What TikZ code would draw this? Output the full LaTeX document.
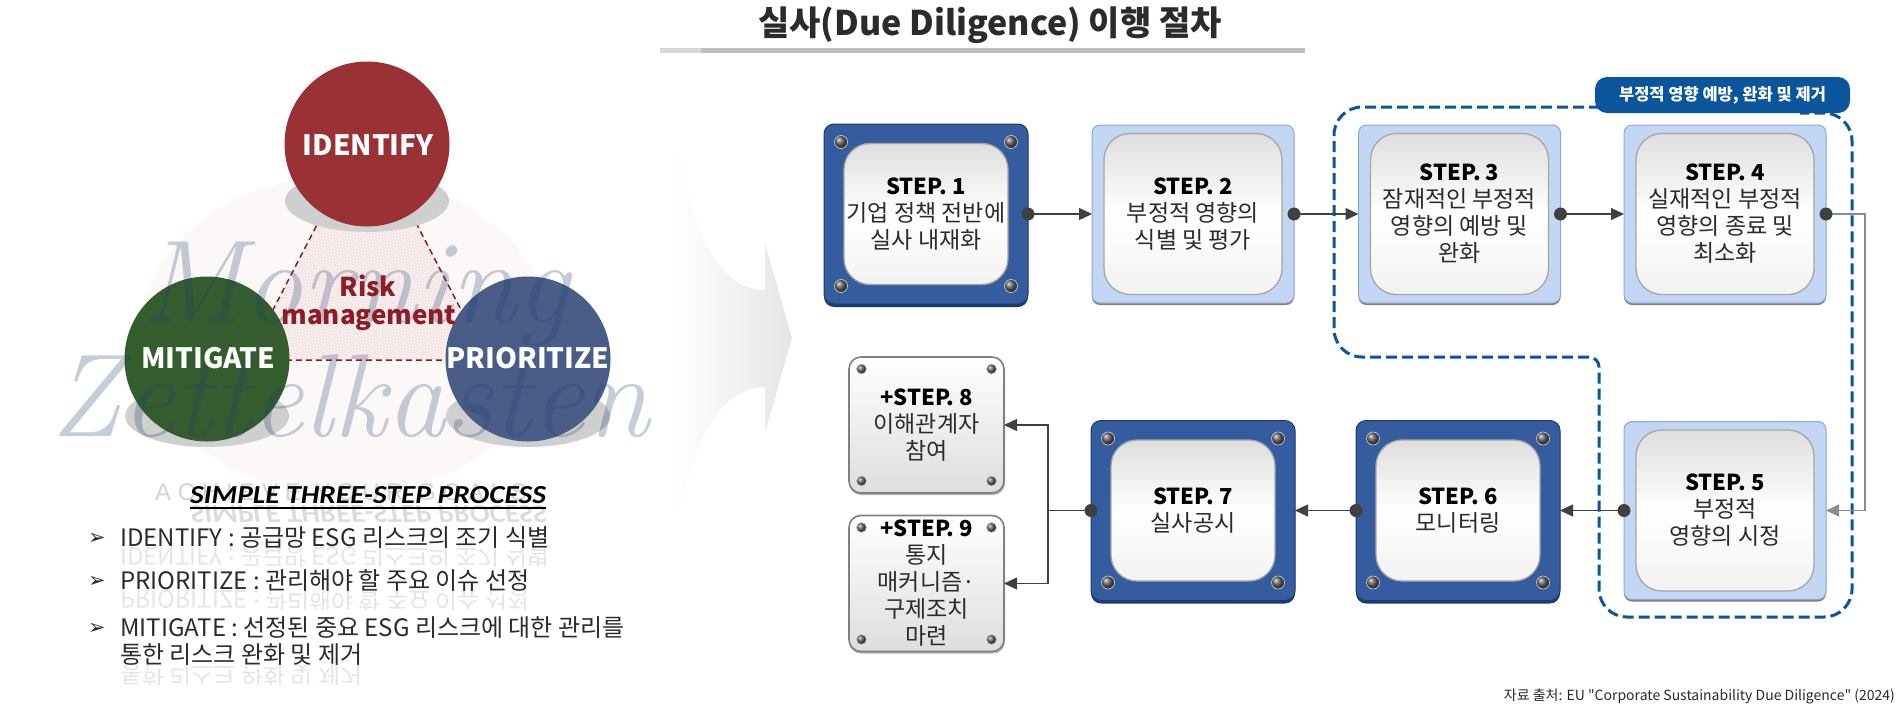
\documentclass[tikz,border=0pt]{standalone}
\usepackage{fontspec}
\usepackage{graphicx}
\usetikzlibrary{arrows.meta,calc,patterns}
\newfontfamily\kr{Noto Sans CJK KR}
\newfontfamily\djv{DejaVu Sans}
\newfontfamily\carl{Carlito}
\newfontfamily\achfont{Liberation Sans}[LetterSpace=28]
\definecolor{dblue}{HTML}{355C9F}
\definecolor{dblueedge}{HTML}{1F3B6E}
\definecolor{lblue}{HTML}{C3D6F3}
\definecolor{lblueedge}{HTML}{8FA8D2}
\definecolor{regblue}{HTML}{0B559C}
\definecolor{idred}{HTML}{9A3135}
\definecolor{migreen}{HTML}{345C2F}
\definecolor{prblue}{HTML}{4A5D87}
\definecolor{riskred}{HTML}{8E1C24}
\definecolor{txtgray}{HTML}{2B2B2B}
\definecolor{conngray}{HTML}{404040}
\definecolor{wmblue}{HTML}{1F4070}
\definecolor{bgpink}{HTML}{FCF8F8}
\definecolor{hatchpink}{HTML}{F2CFCF}
\definecolor{shadowgray}{HTML}{CFCFCF}
\tikzset{
  darkouter/.style={rounded corners=10pt, fill=dblue, draw=dblueedge, line width=1pt, minimum width=204pt, minimum height=180pt, inner sep=0pt, outer sep=0pt},
  lightouter/.style={rounded corners=8pt, fill=lblue, draw=lblueedge, line width=1pt, minimum width=202pt, minimum height=178pt, inner sep=0pt, outer sep=0pt},
  innerbox/.style={rounded corners=26pt, top color=black!13, bottom color=black!5, middle color=white, draw=black!35, line width=1.3pt, inner sep=0pt},
  plainbox/.style={rounded corners=12pt, top color=white, bottom color=black!13, draw=black!50, line width=1.6pt, minimum width=155pt, minimum height=136pt, inner sep=0pt, outer sep=0pt},
  steptext/.style={align=center, text=txtgray, font=\kr\fontsize{23}{27}\selectfont, inner sep=0pt},
  conn/.style={draw=conngray, line width=1.3pt, -{Triangle[length=13pt,width=12pt]}},
  plainline/.style={draw=conngray, line width=1.3pt},
  circlabel/.style={anchor=base, inner sep=0pt, text=white, font=\kr\bfseries\fontsize{28}{28}\selectfont},
  bultext/.style={anchor=base west, inner sep=0pt, text=txtgray, font=\kr\fontsize{24}{27}\selectfont},
  bulrefl/.style={anchor=base west, inner sep=0pt, text=black, opacity=0.1, font=\kr\fontsize{24}{27}\selectfont},
  bularrow/.style={inner sep=0pt, text=txtgray, font=\djv\fontsize{21}{21}\selectfont},
  wmark/.style={anchor=base west, inner sep=0pt, text=wmblue, opacity=0.26, font=\rmfamily\itshape\fontsize{118}{118}\selectfont},
}
\newcommand{\stephead}[1]{{\bfseries\color{black}\fontsize{22}{27}\selectfont #1}}
\newcommand{\screwdot}[2]{\shade[ball color=black!62] #1 circle (#2); \draw[black!20, line width=0.7pt] #1 circle (#2);}
\newcommand{\darkbox}[4]{%
  \fill[dblueedge, rounded corners=10pt] (#2-102,#3-87) rectangle (#2+102,#3+93);
  \node[darkouter] (#1) at (#2,#3) {};
  \node[innerbox, minimum width=164pt, minimum height=141pt] (#1in) at (#1.center) {};
  \foreach \dx/\dy in {-85/-72,85/-72,-85/72,85/72}{\screwdot{($(#1.center)+(\dx,\dy)$)}{6.5pt}}
  \node[steptext] (#1txt) at (#1.center) {#4};
}
\newcommand{\lightbox}[4]{%
  \fill[black!50, rounded corners=8pt] (#2-101,#3-87) rectangle (#2+101,#3+91);
  \node[lightouter] (#1) at (#2,#3) {};
  \node[innerbox, minimum width=178pt, minimum height=161pt] (#1in) at (#1.center) {};
  \node[steptext] (#1txt) at (#1.center) {#4};
}
\newcommand{\plainstep}[4]{%
  \fill[black!30, rounded corners=12pt] (#2-77.5,#3-66) rectangle (#2+78.5,#3+70);
  \node[plainbox] (#1) at (#2,#3) {};
  \foreach \dx/\dy in {-65/-56,65/-56,-65/56,65/56}{\screwdot{($(#1.center)+(\dx,\dy)$)}{5pt}}
  \node[steptext] (#1txt) at (#1.center) {#4};
}
\begin{document}
\begin{tikzpicture}[x=1pt,y=-1pt]
\useasboundingbox (0,0) rectangle (1897,705);
\fill[white] (0,0) rectangle (1897,705);

% ---------- title ----------
\node[anchor=base, inner sep=0pt, text=txtgray, font=\kr\bfseries\fontsize{34}{34}\selectfont] (title) at (990,35) {실사(Due Diligence) 이행 절차};
\fill[black!25] (660,48) rectangle (1305,53);
\fill[black!16] (660,48) rectangle (701,53);

% ---------- faint chevron ----------
\shade[left color=white, right color=black!10] (673,120) .. controls (688,215) and (712,290) .. (765,290) -- (765,243) -- (792,338) -- (765,433) -- (765,387) .. controls (712,387) and (688,462) .. (673,540) -- cycle;

% ---------- left: risk management ----------
\fill[bgpink] (345,335) ellipse [x radius=205pt, y radius=160pt];
\coordinate (ta) at (367,128);
\coordinate (tb) at (247,360);
\coordinate (tc) at (487,360);
\fill[pattern=north east lines, pattern color=hatchpink] (ta) -- (tb) -- (tc) -- cycle;
\draw[riskred, line width=1.5pt, dash pattern=on 6pt off 4pt] (ta) -- (tb) -- (tc) -- cycle;

\fill[shadowgray] (367,201) ellipse [x radius=82pt, y radius=31pt];
\fill[shadowgray] (207,416) ellipse [x radius=82pt, y radius=31pt];
\fill[shadowgray] (528,416) ellipse [x radius=82pt, y radius=31pt];
\node[circle, fill=idred, minimum size=165pt, inner sep=0pt] (idc) at (367,144) {};
\node[circle, fill=migreen, minimum size=165pt, inner sep=0pt] (mic) at (207,359) {};
\node[circle, fill=prblue, minimum size=165pt, inner sep=0pt] (prc) at (528,359) {};

% watermark
\node[wmark] (wm1) at (140,322) {Morning};
\node[wmark] (wm2) at (50,436) {Zettelkasten};

\node[circlabel] (idl) at (368,155) {IDENTIFY};
\node[circlabel] (mil) at (208,368) {MITIGATE};
\node[circlabel] (prl) at (528,368) {PRIORITIZE};
\node[anchor=base, inner sep=0pt, text=riskred, font=\kr\bfseries\fontsize{26}{26}\selectfont] (risk1) at (368,296) {Risk};
\node[anchor=base, inner sep=0pt, text=riskred, font=\kr\bfseries\fontsize{26}{26}\selectfont] (risk2) at (369,324) {management};

% process text
\node[anchor=base west, inner sep=0pt, text=black!17, font=\achfont\fontsize{24}{24}\selectfont] (ach) at (155,500) {ACHIEVE YOUR GOALS};
\node[anchor=base, inner sep=0pt, text=black!14, font=\carl\bfseries\itshape\fontsize{26}{26}\selectfont] (simpr) at (368,505) {\scalebox{1.13}[-1]{SIMPLE THREE-STEP PROCESS}};
\node[anchor=base, inner sep=0pt, text=black, font=\carl\bfseries\itshape\fontsize{26}{26}\selectfont] (simp) at (368,503) {\scalebox{1.13}[1]{SIMPLE THREE-STEP PROCESS}};
\draw[black, line width=1.4pt] ($(simp.base west)+(0,5)$) -- ($(simp.base east)+(0,5)$);

\node[bularrow] (a1) at (97,539) {➢};
\node[bulrefl] (r1) at (120,547) {\scalebox{1}[-1]{IDENTIFY : 공급망 ESG 리스크의 조기 식별}};
\node[bultext] (t1) at (120,546) {IDENTIFY : 공급망 ESG 리스크의 조기 식별};
\node[bularrow] (a2) at (97,582) {➢};
\node[bulrefl] (r2) at (120,590) {\scalebox{1}[-1]{PRIORITIZE : 관리해야 할 주요 이슈 선정}};
\node[bultext] (t2) at (120,589) {PRIORITIZE : 관리해야 할 주요 이슈 선정};
\node[bularrow] (a3) at (97,629) {➢};
\node[bulrefl] (r3) at (120,665) {\scalebox{1}[-1]{통한 리스크 완화 및 제거}};
\node[bultext] (t3) at (120,636) {MITIGATE : 선정된 중요 ESG 리스크에 대한 관리를};
\node[bultext] (t4) at (120,663) {통한 리스크 완화 및 제거};

% ---------- right: dashed region ----------
\draw[regblue, line width=3pt, dash pattern=on 11pt off 5pt, rounded corners=28pt] (1600,107) -- (1334,107) -- (1334,357) [rounded corners=10pt] -- (1599,357) [rounded corners=28pt] -- (1599,617) -- (1852,617) -- (1852,113) -- (1800,113);
\node[fill=regblue, rounded corners=12pt, minimum width=255pt, minimum height=36pt, inner sep=0pt, text=white, font=\kr\bfseries\fontsize{16.5}{16.5}\selectfont] (badge) at (1722.5,95) {부정적 영향 예방, 완화 및 제거};

% ---------- step boxes ----------
\darkbox{s1}{926}{214}{\stephead{STEP. 1}\\기업 정책 전반에\\실사 내재화}
\lightbox{s2}{1193}{214}{\stephead{STEP. 2}\\부정적 영향의\\식별 및 평가}
\lightbox{s3}{1459.5}{214}{\stephead{STEP. 3}\\잠재적인 부정적\\영향의 예방 및\\완화}
\lightbox{s4}{1725}{214}{\stephead{STEP. 4}\\실재적인 부정적\\영향의 종료 및\\최소화}
\lightbox{s5}{1725}{510.5}{\stephead{STEP. 5}\\부정적\\영향의 시정}
\darkbox{s6}{1458}{510.5}{\stephead{STEP. 6}\\모니터링}
\darkbox{s7}{1193}{510.5}{\stephead{STEP. 7}\\실사공시}
\plainstep{s8}{926.5}{425}{\stephead{+STEP. 8}\\이해관계자\\참여}
\plainstep{s9}{926.5}{583.5}{\stephead{+STEP. 9}\\통지\\매커니즘·\\구제조치\\마련}

% ---------- connectors ----------
\draw[conn] (s1.east) -- (s2.west);
\draw[conn] (s2.east) -- (s3.west);
\draw[conn] (s3.east) -- (s4.west);
\coordinate (r45) at (1865,214);
\draw[conn, draw=black!45] (s4.east) -- (r45) |- (s5.east);
\draw[conn] (s5.west) -- (s6.east);
\draw[conn] (s6.west) -- (s7.east);
\coordinate (j7) at (1048,510.5);
\draw[plainline] (s7.west) -- (j7);
\draw[conn] (j7) |- (s8.east);
\draw[conn] (j7) |- (s9.east);
\foreach \p in {s1.east,s2.east,s3.east,s4.east,s5.west,s6.west,s7.west}{\fill[conngray] (\p) circle (6.5pt);}

% ---------- source ----------
\node[anchor=base east, inner sep=0pt, text=txtgray, font=\kr\fontsize{14}{14}\selectfont] (src) at (1895,700) {자료 출처: EU "Corporate Sustainability Due Diligence" (2024)};
\end{tikzpicture}
\end{document}
